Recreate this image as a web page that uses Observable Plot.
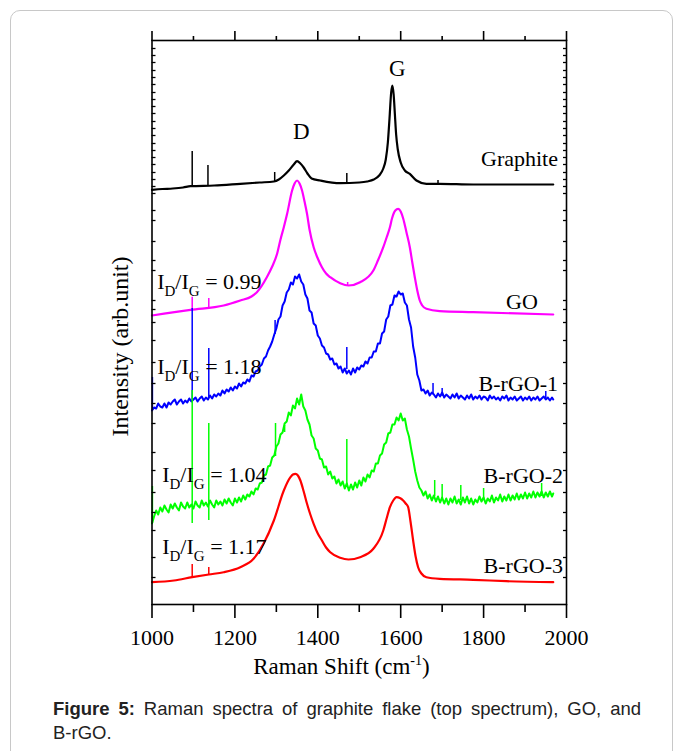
<!DOCTYPE html>
<html><head><meta charset="utf-8">
<script src="https://cdn.jsdelivr.net/npm/d3@7"></script>
<script src="https://cdn.jsdelivr.net/npm/@observablehq/plot@0.6"></script>
<style>
body{margin:0;background:#fff;width:681px;height:751px;overflow:hidden;position:relative;}
#border{position:absolute;left:10px;top:10px;width:663px;height:800px;border:1.5px solid #c8c8c8;border-radius:10px;box-sizing:border-box;}
#chart{position:absolute;left:0;top:0;}
#caption{position:absolute;left:53px;top:697px;width:588px;font-family:"Liberation Sans",Arial,sans-serif;font-size:18.5px;line-height:24px;text-align:justify;color:#222;}
</style></head>
<body>
<div id="border"></div>
<div id="chart"></div>
<div id="caption"><b>Figure 5:</b> Raman spectra of graphite flake (top spectrum), GO, and <span style="white-space:nowrap">B-rGO.</span></div>
<script>
// Raman shift (cm^-1), intensity (arb. units, stacked)
const graphite = [[1000,414.7],[1025,415.5],[1050,416],[1075,417],[1093,418.3],[1150,419],[1213,420.7],[1260,422],[1294,423],[1306,425],[1318,429],[1330,434],[1342,440],[1350,443.3],[1358,441],[1366,437],[1375,431],[1385,426],[1406,424],[1454,421.3],[1500,422],[1519,423],[1535,425],[1548,429],[1558,436],[1564,445],[1569,462],[1573,486],[1577,512],[1580,519],[1583,510],[1586,490],[1589,470],[1593,455],[1600,442],[1610,434],[1622,430.7],[1638,424],[1662,420.7],[1694,420.7],[1775,420],[1855,420],[1968,420]];
const graphiteSpikes = [[1097,418,453],[1135,419,439],[1296,423,432],[1470,421,431],[1690,420,424]];

const go = [[1000,289],[1093,294.7],[1173,299],[1213,304],[1240,308],[1253,312.3],[1277,327.3],[1290,338],[1302,351],[1310,365],[1318,377.3],[1326,390.7],[1338,414],[1344,421],[1350,424],[1356,421],[1362,414],[1368,403],[1374,390.7],[1380,375],[1390,357.3],[1400,346],[1410,337.3],[1420,331],[1430,327.3],[1454,321.3],[1474,319],[1502,322.3],[1534,334],[1545,344],[1558,357.3],[1566,367],[1574,377.3],[1579,386],[1587,394],[1594,395.7],[1600,393],[1606,386],[1614,372],[1622,357.3],[1628,342],[1634,327.3],[1640,314],[1646,304],[1652,299],[1662,295.7],[1694,293.3],[1775,292.3],[1968,290]];
const goSpikes = [[1097,294.7,307.3],[1137,296,306],[1472,319,322]];

const brgo1 = [[1000,194],[1005,197],[1010,196],[1015,201],[1020,198],[1025,197],[1030,201],[1035,197],[1040,202],[1045,200],[1050,203],[1055,205],[1060,200],[1065,203],[1070,205],[1075,201],[1080,204],[1085,202],[1090,206],[1095,203],[1100,205],[1105,207],[1110,203],[1115,206],[1120,208],[1125,204],[1130,207],[1135,205],[1140,209],[1145,206],[1150,210],[1155,208],[1160,211],[1165,209],[1170,214],[1175,211],[1180,215],[1185,213],[1190,217],[1195,214],[1200,218],[1205,216],[1210,221],[1215,218],[1220,222],[1225,221],[1230,225],[1235,223],[1240,229],[1245,228],[1250,233],[1255,234],[1260,238],[1265,240],[1270,246],[1275,248],[1280,254],[1285,258],[1290,263],[1295,270],[1300,276],[1305,285],[1310,288],[1315,299],[1320,303],[1325,312],[1330,315],[1335,322],[1340,320],[1345,328],[1350,326],[1355,330],[1360,323],[1365,320],[1370,310],[1375,306],[1380,294],[1385,292],[1390,281],[1395,279],[1400,269],[1405,266],[1410,259],[1415,257],[1420,251],[1425,250],[1430,245],[1435,246],[1440,240],[1445,241],[1450,236],[1455,238],[1460,232],[1465,236],[1470,231],[1475,234],[1480,230],[1485,236],[1490,232],[1495,237],[1500,235],[1505,239],[1510,238],[1515,243],[1520,241],[1525,247],[1530,247],[1535,253],[1540,253],[1545,261],[1550,261],[1555,271],[1560,273],[1565,285],[1570,288],[1575,299],[1580,300],[1585,309],[1590,308],[1595,313],[1600,310],[1605,311],[1610,302],[1615,299],[1620,285],[1625,277],[1630,258],[1635,247],[1640,230],[1645,224],[1650,214],[1655,215],[1660,211],[1665,214],[1670,209],[1675,212],[1680,210],[1685,207],[1690,211],[1695,208],[1700,212],[1705,207],[1710,210],[1715,208],[1720,206],[1725,210],[1730,207],[1735,211],[1740,206],[1745,209],[1750,207],[1755,205],[1760,209],[1765,206],[1770,210],[1775,205],[1780,208],[1785,206],[1790,209],[1795,205],[1800,208],[1805,207],[1810,204],[1815,209],[1820,206],[1825,208],[1830,205],[1835,207],[1840,204],[1845,208],[1850,206],[1855,209],[1860,204],[1865,207],[1870,205],[1875,208],[1880,204],[1885,206],[1890,208],[1895,204],[1900,207],[1905,205],[1910,208],[1915,204],[1920,207],[1925,205],[1930,208],[1935,204],[1940,206],[1945,208],[1950,205],[1955,207],[1960,204],[1965,207],[1968,205]];
const brgo1Spikes = [[1001,194,227],[1097,204,296],[1137,206,256],[1297,270,284],[1470,235,257],[1678,211,221],[1700,208,216],[1950,205,213]];

const brgo2 = [[1000,81],[1005,88],[1010,94],[1015,90],[1020,97],[1025,93],[1030,99],[1035,95],[1040,92],[1045,100],[1050,96],[1055,101],[1060,97],[1065,94],[1070,102],[1075,98],[1080,96],[1085,102],[1090,97],[1095,100],[1100,96],[1105,103],[1110,99],[1115,97],[1120,104],[1125,99],[1130,102],[1135,98],[1140,104],[1145,100],[1150,97],[1155,104],[1160,100],[1165,103],[1170,99],[1175,105],[1180,101],[1185,106],[1190,102],[1195,99],[1200,106],[1205,102],[1210,107],[1215,103],[1220,109],[1225,105],[1230,110],[1235,108],[1240,113],[1245,110],[1250,116],[1255,115],[1260,121],[1265,122],[1270,129],[1275,130],[1280,138],[1285,139],[1290,147],[1295,149],[1300,158],[1305,161],[1310,170],[1315,172],[1320,181],[1325,183],[1330,192],[1335,189],[1340,199],[1345,196],[1350,206],[1355,200],[1360,210],[1365,198],[1370,194],[1375,185],[1380,180],[1385,169],[1390,166],[1395,156],[1400,154],[1405,146],[1410,145],[1415,137],[1420,138],[1425,130],[1430,133],[1435,126],[1440,128],[1445,121],[1450,125],[1455,119],[1460,123],[1465,116],[1470,121],[1475,114],[1480,120],[1485,115],[1490,122],[1495,117],[1500,124],[1505,119],[1510,127],[1515,123],[1520,130],[1525,127],[1530,134],[1535,133],[1540,141],[1545,141],[1550,149],[1555,151],[1560,160],[1565,162],[1570,171],[1575,172],[1580,180],[1585,180],[1590,187],[1595,184],[1600,191],[1605,184],[1610,186],[1615,175],[1620,168],[1625,156],[1630,145],[1635,133],[1640,124],[1645,117],[1650,114],[1655,109],[1660,113],[1665,106],[1670,110],[1675,104],[1680,109],[1685,103],[1690,108],[1695,102],[1700,107],[1705,101],[1710,106],[1715,100],[1720,106],[1725,102],[1730,108],[1735,101],[1740,105],[1745,100],[1750,107],[1755,102],[1760,108],[1765,101],[1770,106],[1775,100],[1780,105],[1785,102],[1790,108],[1795,103],[1800,107],[1805,101],[1810,106],[1815,103],[1820,109],[1825,102],[1830,107],[1835,104],[1840,110],[1845,103],[1850,108],[1855,104],[1860,110],[1865,104],[1870,109],[1875,105],[1880,111],[1885,105],[1890,110],[1895,106],[1900,112],[1905,106],[1910,111],[1915,107],[1920,113],[1925,107],[1930,112],[1935,108],[1940,113],[1945,107],[1950,112],[1955,108],[1960,113],[1965,108],[1968,111]];
const brgo2Spikes = [[1001,81,118],[1097,81,214],[1137,84,181],[1298,148,181],[1320,172,179],[1470,118,165],[1682,108,124],[1700,105,120],[1745,104,119],[1800,104,116],[1940,108,121]];

const brgo3 = [[1000,22.3],[1053,24],[1097,27.3],[1137,30],[1173,32.3],[1213,37.3],[1245,45.7],[1269,60.7],[1294,84],[1318,114],[1334,127.3],[1340,130],[1346,130.7],[1352,129],[1358,124],[1366,113],[1374,100.7],[1382,90],[1390,80.7],[1400,71],[1410,64],[1420,57],[1430,52.3],[1454,46.7],[1474,45],[1502,47.3],[1534,55.7],[1558,74],[1566,86],[1574,97.3],[1582,104],[1590,107.3],[1598,106.5],[1606,104],[1612,101],[1618,97.3],[1624,82],[1630,64],[1636,48],[1642,37.3],[1650,31],[1662,27.3],[1694,25.7],[1775,24.7],[1855,23.3],[1968,22.3]];
const brgo3Spikes = [[1097,27,40],[1137,30,37]];

const seriesNames = ["Graphite","GO","B-rGO-1","B-rGO-2","B-rGO-3"];
const seriesColors = ["#000000","#ff00ff","#0000ff","#00ff00","#ff0000"];
const seriesLabelPos = [[1979.5,438.3],[1931,296],[1979.5,214],[1991.6,121.3],[1991.6,31.3]];

const peakLabels = [{label:"D", w:1360, v:466},{label:"G", w:1592, v:529}];
const ratioLabels = [{t:"ID/IG = 0.99", w:1012.5, v:316},{t:"ID/IG = 1.18", w:1012.5, v:231},{t:"ID/IG = 1.04", w:1024.6, v:122.3},{t:"ID/IG = 1.17", w:1024.6, v:51}];

const xMajor = [1000,1200,1400,1600,1800,2000];
const xMinor = [1100,1300,1500,1700,1900];
const yTicks = [556,549,542,534,527,520,512,505,498,491,483,476,469,461,454,447,440,432,425,418,411,394,384,363,344,334,304,295,282,264,242,221,201,181,152,134,112,92,74,47,27];

const xTitle = "Raman Shift (cm-1)";
const yTitle = "Intensity (arb.unit)";

const allSeries = [graphite, go, brgo1, brgo2, brgo3];
const allSpikes = [graphiteSpikes, goSpikes, brgo1Spikes, brgo2Spikes, brgo3Spikes];
const widths = [2.2, 2.2, 2, 2, 2.2];
const curves = ["monotone-x", "monotone-x", "linear", "linear", "monotone-x"];

const font = "'Liberation Serif','Times New Roman',serif";
const marks = [];
allSeries.forEach((pts, i) => {
  marks.push(Plot.line(pts, {x: d => d[0], y: d => d[1], stroke: seriesColors[i], strokeWidth: widths[i], strokeLinejoin: "round", curve: curves[i]}));
  marks.push(Plot.ruleX(allSpikes[i], {x: d => d[0], y1: d => d[1], y2: d => d[2], stroke: seriesColors[i], strokeWidth: 1.5}));
});
const labelRows = seriesNames.map((n, i) => ({n, w: seriesLabelPos[i][0], v: seriesLabelPos[i][1]}));

const plot = Plot.plot({
  width: 681, height: 690,
  marginLeft: 151.5, marginRight: 115, marginTop: 40, marginBottom: 86,
  x: {domain: [1000, 2000]},
  y: {domain: [0, 564]},
  style: {fontFamily: font, fontSize: "22px", background: "transparent", color: "black", overflow: "visible"},
  marks: [
    ...marks,
    Plot.text(labelRows, {x: "w", y: "v", text: "n", textAnchor: "end", lineAnchor: "bottom", fontSize: 22, fill: "black"}),
    Plot.text(peakLabels, {x: "w", y: "v", text: "label", lineAnchor: "bottom", fontSize: 23, fill: "black"}),
    Plot.text(ratioLabels, {x: "w", y: "v", text: "t", textAnchor: "start", lineAnchor: "bottom", fontSize: 22, fill: "black"}),
    Plot.text([{t: xTitle, w: 1457}], {x: "w", text: "t", frameAnchor: "bottom", dy: 69, textAnchor: "middle", lineAnchor: "bottom", fontSize: 23, fill: "black"}),
    Plot.text([{t: yTitle, v: 258}], {y: "v", text: "t", frameAnchor: "left", dx: -31.5, rotate: -90, textAnchor: "middle", lineAnchor: "middle", fontSize: 24, fill: "black"}),
    Plot.axisX({anchor: "bottom", ticks: xMajor, tickSize: 14, tickPadding: 11, tickFormat: d => String(d), fontSize: 22, label: null, strokeWidth: 1.6}),
    Plot.axisX({anchor: "bottom", ticks: xMinor, tickSize: 8, tickFormat: () => "", label: null, strokeWidth: 1.6}),
    Plot.axisX({anchor: "top", ticks: xMajor, tickSize: 10, tickFormat: () => "", label: null, strokeWidth: 1.6}),
    Plot.axisX({anchor: "top", ticks: xMinor, tickSize: 5, tickFormat: () => "", label: null, strokeWidth: 1.6}),
    Plot.axisY({anchor: "left", ticks: yTicks, tickSize: -4, tickFormat: () => "", label: null, strokeWidth: 1.3}),
    Plot.axisY({anchor: "right", ticks: yTicks, tickSize: -4, tickFormat: () => "", label: null, strokeWidth: 1.3}),
    Plot.frame({stroke: "black", strokeWidth: 1.6})
  ]
});

d3.select(plot).selectAll("text").each(function() {
  const t = this.textContent;
  const sel = d3.select(this);
  const m = t.match(/^ID\/IG( = .*)$/);
  if (m) {
    sel.text(null);
    sel.append("tspan").text("I");
    sel.append("tspan").attr("dy", 7).attr("font-size", 15).text("D");
    sel.append("tspan").attr("dy", -7).text("/I");
    sel.append("tspan").attr("dy", 7).attr("font-size", 15).text("G");
    sel.append("tspan").attr("dy", -7).text(m[1]);
  } else if (t === xTitle) {
    sel.text(null);
    sel.append("tspan").text("Raman Shift (cm");
    sel.append("tspan").attr("dy", -9).attr("font-size", 14).text("-1");
    sel.append("tspan").attr("dy", 9).text(")");
  }
});
document.getElementById("chart").appendChild(plot);
</script>
</body></html>
